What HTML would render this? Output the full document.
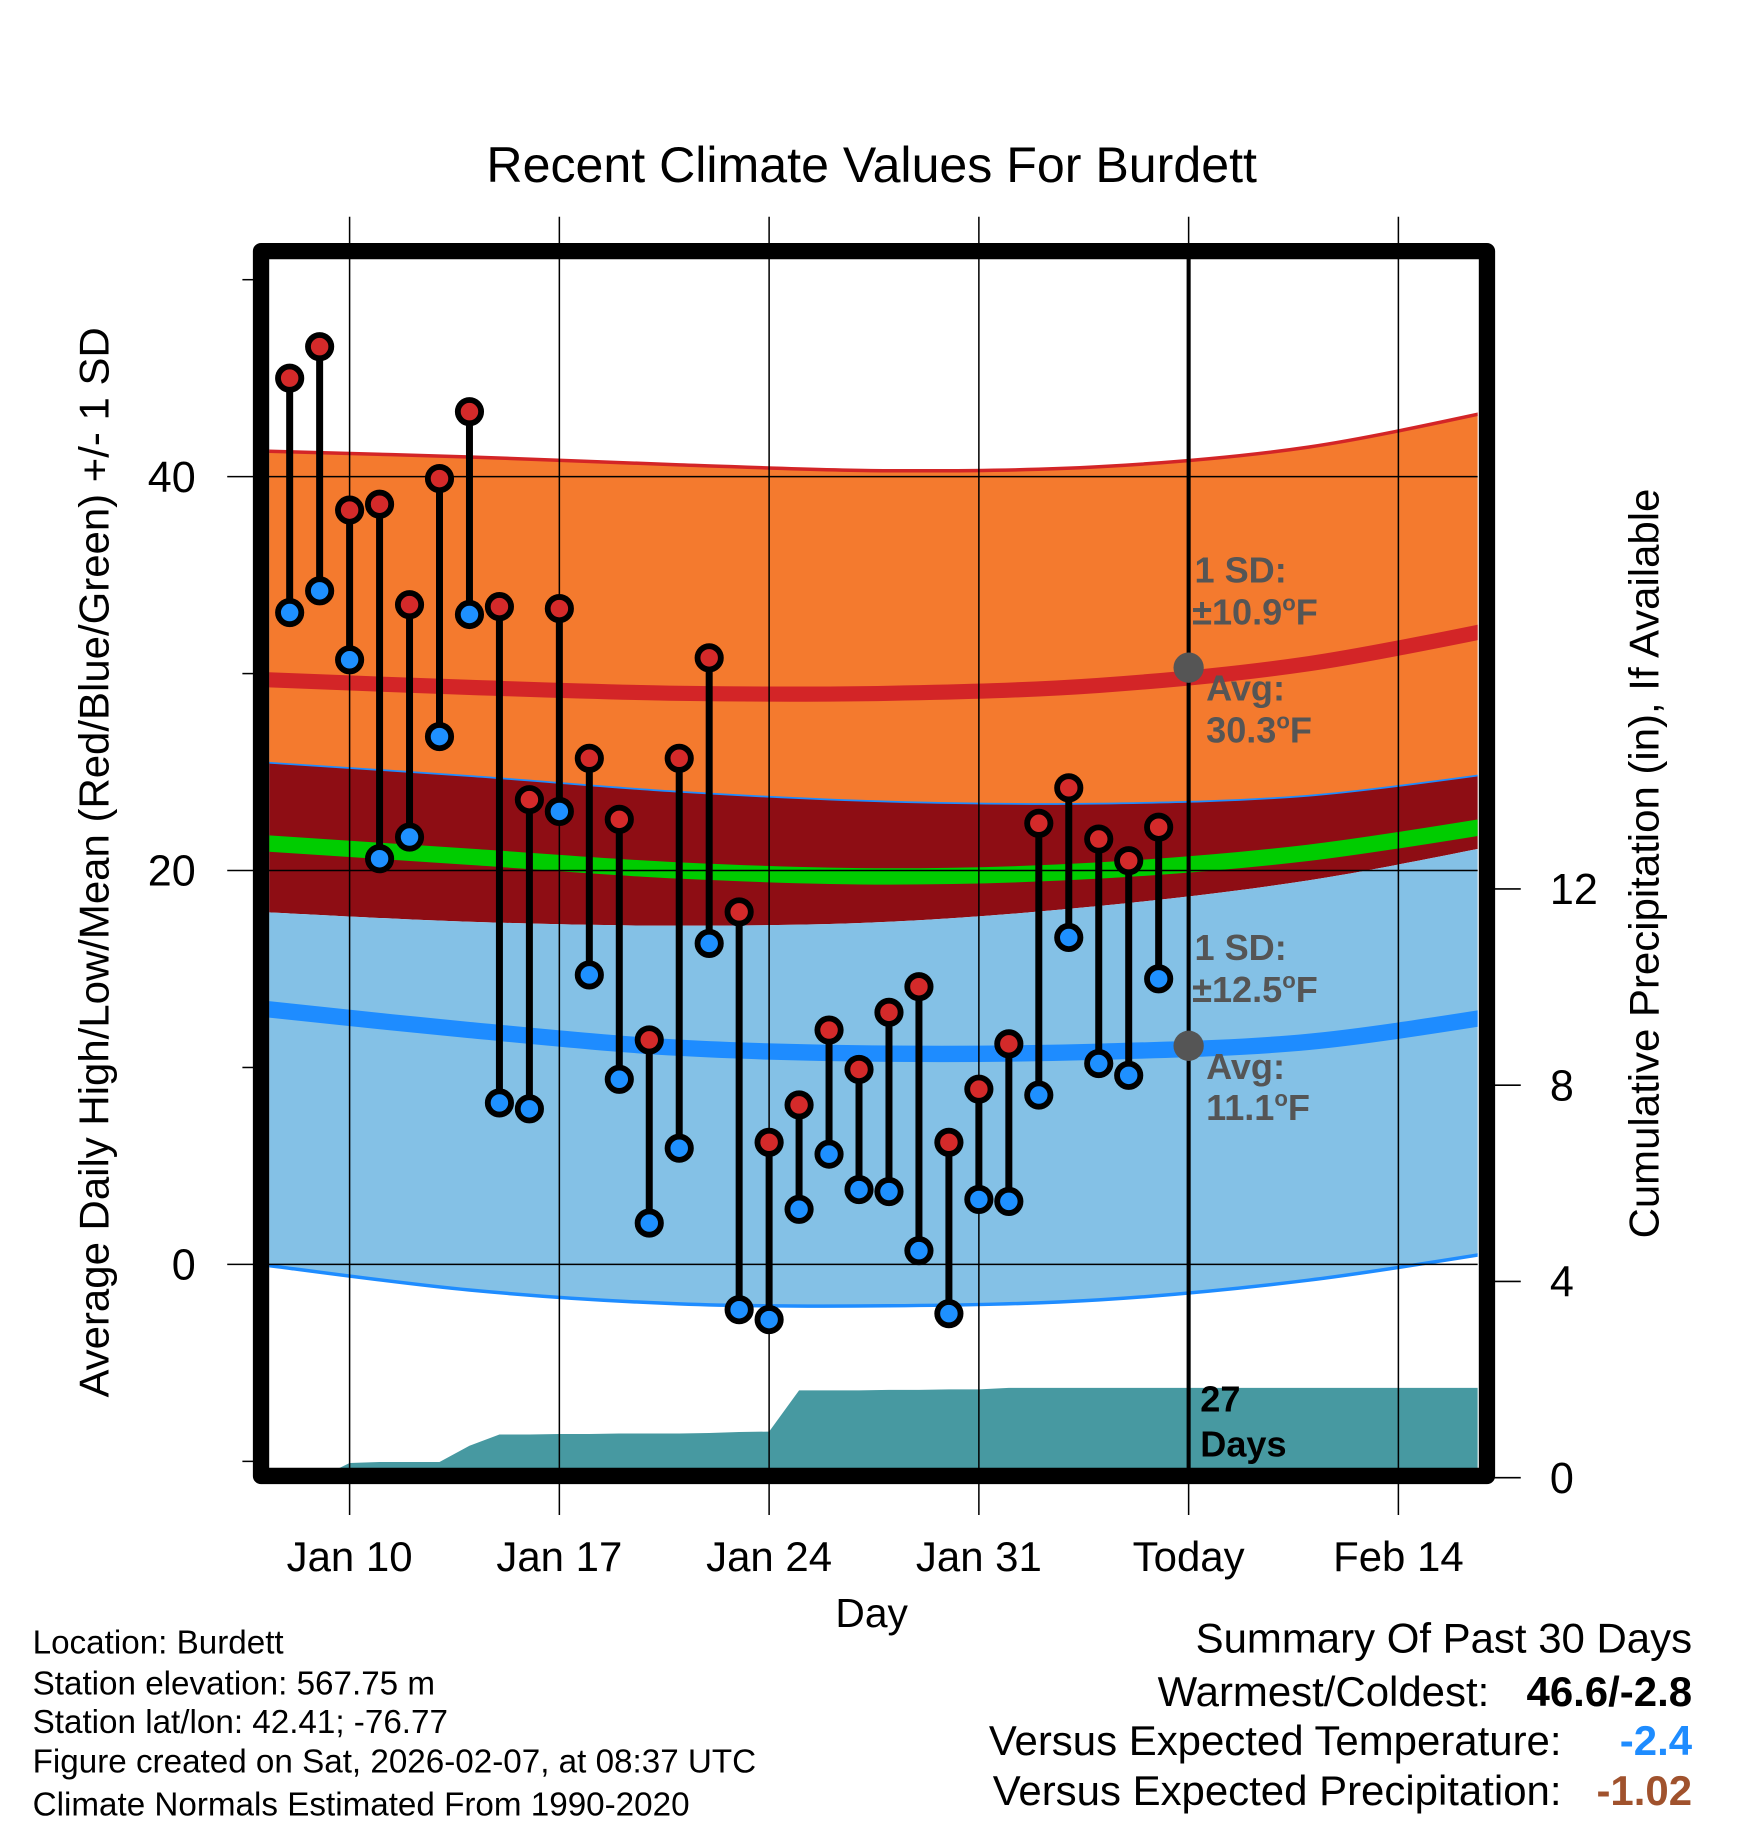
<!DOCTYPE html>
<html><head><meta charset="utf-8"><style>
html,body{margin:0;padding:0;background:#fff;}
svg{display:block;font-family:"Liberation Sans",sans-serif;}
</style></head><body>
<svg id="chart" width="1748" height="1828" viewBox="0 0 1500 1568.6" preserveAspectRatio="none" xmlns="http://www.w3.org/2000/svg">
<defs><clipPath id="plotclip"><rect x="231" y="222" width="1037" height="1038"/></clipPath></defs>
<text x="748" y="156" font-size="43" text-anchor="middle">Recent Climate Values For Burdett</text>
<g id="bands" clip-path="url(#plotclip)"></g>
<g id="grid"></g>
<g id="marks" clip-path="url(#plotclip)"></g>
<g id="annot"></g>
<rect x="224" y="215.5" width="1052" height="1051" fill="none" stroke="#000" stroke-width="14" stroke-linejoin="round"/>
<text transform="translate(93,740) rotate(-90)" font-size="36" text-anchor="middle">Average Daily High/Low/Mean (Red/Blue/Green) +/- 1 SD</text>
<text transform="translate(1423,741) rotate(-90)" font-size="36" text-anchor="middle">Cumulative Precipitation (in), If Available</text>
<text x="748" y="1396" font-size="35" text-anchor="middle">Day</text>
<g font-size="28.5">
<text x="28" y="1419">Location: Burdett</text>
<text x="28" y="1454">Station elevation: 567.75 m</text>
<text x="28" y="1487">Station lat/lon: 42.41; -76.77</text>
<text x="28" y="1521">Figure created on Sat, 2026-02-07, at 08:37 UTC</text>
<text x="28" y="1558">Climate Normals Estimated From 1990-2020</text>
</g>
<g font-size="36" text-anchor="end">
<text x="1452" y="1418">Summary Of Past 30 Days</text>
<text x="1278" y="1464">Warmest/Coldest:</text>
<text x="1452" y="1464" font-weight="bold">46.6/-2.8</text>
<text x="1340" y="1506">Versus Expected Temperature:</text>
<text x="1452" y="1506" font-weight="bold" fill="#1E8CFF">-2.4</text>
<text x="1340" y="1549">Versus Expected Precipitation:</text>
<text x="1452" y="1549" font-weight="bold" fill="#A0522D">-1.02</text>
</g>
</svg>
<script>
// data (day index: 0 = Jan 7)
const obsDays=[1,2,3,4,5,6,7,8,9,10,11,12,13,14,15,16,17,18,19,20,21,22,23,24,25,26,27,28,29,30];
const highs=[45.0,46.6,38.3,38.6,33.5,39.9,43.3,33.4,23.6,33.3,25.7,22.6,11.4,25.7,30.8,17.9,6.2,8.1,11.9,9.9,12.8,14.1,6.2,8.9,11.2,22.4,24.2,21.6,20.5,22.2];
const lows=[33.1,34.2,30.7,20.6,21.7,26.8,33.0,8.2,7.9,23.0,14.7,9.4,2.1,5.9,16.3,-2.3,-2.8,2.8,5.6,3.8,3.7,0.7,-2.5,3.3,3.2,8.6,16.6,10.2,9.6,14.5];
const precip=[0,0,0.30,0.32,0.32,0.32,0.65,0.88,0.88,0.89,0.89,0.90,0.90,0.90,0.91,0.93,0.94,1.78,1.78,1.78,1.79,1.79,1.80,1.80,1.83,1.83,1.83,1.83,1.83,1.83];
const normDays=[0,7,14,21,28,35,42];
const highUpper=[41.3,41.0,40.6,40.3,40.5,41.5,43.6];
const highAvg=[29.7,29.3,29.0,29.0,29.4,30.5,32.5];
const highLower=[25.5,24.8,24.0,23.5,23.4,23.8,25.1];
const meanAvg=[21.4,20.7,20.0,19.7,20.0,20.9,22.5];
const lowUpper=[17.9,17.4,17.2,17.4,18.2,19.5,21.5];
const lowAvg=[13.0,11.9,11.0,10.7,10.8,11.3,12.8];
const lowLower=[0.0,-1.3,-2.0,-2.1,-1.8,-0.8,0.8];
const xTickDays=[3,10,17,24,31,38];
const xTickLabels=["Jan 10","Jan 17","Jan 24","Jan 31","Today","Feb 14"];
const todayDay=31;
const yTicks=[40,20,0];
const yMinor=[50,30,10,-10];
const y2Ticks=[0,4,8,12];

const NS="http://www.w3.org/2000/svg";
const X=d=>300+(d-3)*25.714;
const Y=v=>1085-v*16.9;
const Y2=p=>1268-p*42.1;
function mk(tag,attrs,parent){const e=document.createElementNS(NS,tag);for(const k in attrs)e.setAttribute(k,attrs[k]);document.getElementById(parent).appendChild(e);return e;}
function curvePts(arr){const pts=[];for(let i=0;i<arr.length;i++)pts.push([X(normDays[i]),Y(arr[i])]);return pts;}
function smooth(pts){let d="M"+pts[0][0]+","+pts[0][1];for(let i=0;i<pts.length-1;i++){const p0=pts[Math.max(0,i-1)],p1=pts[i],p2=pts[i+1],p3=pts[Math.min(pts.length-1,i+2)];const c1=[p1[0]+(p2[0]-p0[0])/6,p1[1]+(p2[1]-p0[1])/6],c2=[p2[0]-(p3[0]-p1[0])/6,p2[1]-(p3[1]-p1[1])/6];d+=" C"+c1+" "+c2+" "+p2;}return d;}
function bandPath(a,b){const top=curvePts(a),bot=curvePts(b).reverse();let d=smooth(top);const s=smooth(bot);d+=" L"+s.slice(1)+" Z";return d;}

let e;
e=mk("path",{d:bandPath(highUpper,highLower),fill:"#F47A2E"},"bands");


e=mk("path",{d:bandPath(highLower,lowUpper),fill:"#8E0D14"},"bands");


e=mk("path",{d:bandPath(lowUpper,lowLower),fill:"#84C1E6"},"bands");


e=mk("path",{d:smooth(curvePts(highUpper)),fill:"none",stroke:"#D32527","stroke-width":3},"bands");


e=mk("path",{d:smooth(curvePts(highLower)),fill:"none",stroke:"#1E8CFF","stroke-width":1.5},"bands");


e=mk("path",{d:smooth(curvePts(lowLower)),fill:"none",stroke:"#1E8CFF","stroke-width":3},"bands");


e=mk("path",{d:smooth(curvePts(highAvg)),fill:"none",stroke:"#D32527","stroke-width":13},"bands");


e=mk("path",{d:smooth(curvePts(meanAvg)),fill:"none",stroke:"#00CC00","stroke-width":14},"bands");


e=mk("path",{d:smooth(curvePts(lowAvg)),fill:"none",stroke:"#1E8CFF","stroke-width":14},"bands");


// precipitation
let pd="M"+X(obsDays[0])+","+Y2(0);
for(let i=0;i<obsDays.length;i++)pd+=" L"+X(obsDays[i])+","+Y2(precip[i]);
pd+=" L"+X(42)+","+Y2(precip[precip.length-1])+" L"+X(42)+","+Y2(0)+" Z";
e=mk("path",{d:pd,fill:"#4799A1"},"bands");


// grid
xTickDays.forEach((d,i)=>{
 e=mk("line",{x1:X(d),x2:X(d),y1:186,y2:1300,stroke:"#000","stroke-width":1.3},"grid");
 
 
 e=mk("text",{x:X(d),y:1348,"font-size":36,"text-anchor":"middle"},"grid");
 e.textContent=xTickLabels[i];
 
 
});
yTicks.forEach(v=>{
 e=mk("line",{x1:195,x2:1268,y1:Y(v),y2:Y(v),stroke:"#000","stroke-width":1.3},"grid");
 
 
 e=mk("text",{x:168,y:Y(v)+13,"font-size":37,"text-anchor":"end"},"grid");
 e.textContent=v;
 
 
});
yMinor.forEach(v=>{
 e=mk("line",{x1:208,x2:220,y1:Y(v),y2:Y(v),stroke:"#000","stroke-width":1.3},"grid");
 
 
});
y2Ticks.forEach(p=>{
 e=mk("line",{x1:1280,x2:1305,y1:Y2(p),y2:Y2(p),stroke:"#000","stroke-width":1.3},"grid");
 
 
 e=mk("text",{x:1330,y:Y2(p)+13,"font-size":37},"grid");
 e.textContent=p;
 
 
});
// today line
e=mk("line",{x1:X(todayDay),x2:X(todayDay),y1:222,y2:1260,stroke:"#000","stroke-width":3.5},"marks");


// obs
obsDays.forEach((d,i)=>{
 e=mk("line",{x1:X(d),x2:X(d),y1:Y(highs[i]),y2:Y(lows[i]),stroke:"#000","stroke-width":6},"marks");
 
 
});
obsDays.forEach((d,i)=>{
 e=mk("circle",{cx:X(d),cy:Y(highs[i]),r:10,fill:"#D42A2A",stroke:"#000","stroke-width":5},"marks");
 
 
 e=mk("circle",{cx:X(d),cy:Y(lows[i]),r:10,fill:"#1E90FF",stroke:"#000","stroke-width":5},"marks");
 
 
});
// annotations
const tx=X(todayDay);
e=mk("circle",{cx:tx,cy:Y(30.3),r:13,fill:"#555"},"annot");


e=mk("circle",{cx:tx,cy:Y(11.1),r:13,fill:"#555"},"annot");


const labels=[["1 SD:",1025,500,"#555",""],["±10.9",1023,536,"#555","F"],["Avg:",1035,601,"#555",""],["30.3",1035,637,"#555","F"],["1 SD:",1025,824,"#555",""],["±12.5",1023,860,"#555","F"],["Avg:",1035,926,"#555",""],["11.1",1035,961,"#555","F"],["27",1030,1211,"#000",""],["Days",1030,1250,"#000",""]];
labels.forEach(l=>{
 e=mk("text",{x:l[1],y:l[2],"font-size":31,"font-weight":"bold",fill:l[3]},"annot");
 e.textContent=l[0];
 if(l[4]){
  const s=document.createElementNS(NS,"tspan");
  s.setAttribute("dy","-12");s.setAttribute("font-size","19");s.textContent="o";e.appendChild(s);
  const f=document.createElementNS(NS,"tspan");
  f.setAttribute("dy","12");f.textContent="F";e.appendChild(f);
 }
 
 
});
</script>
</body></html>
